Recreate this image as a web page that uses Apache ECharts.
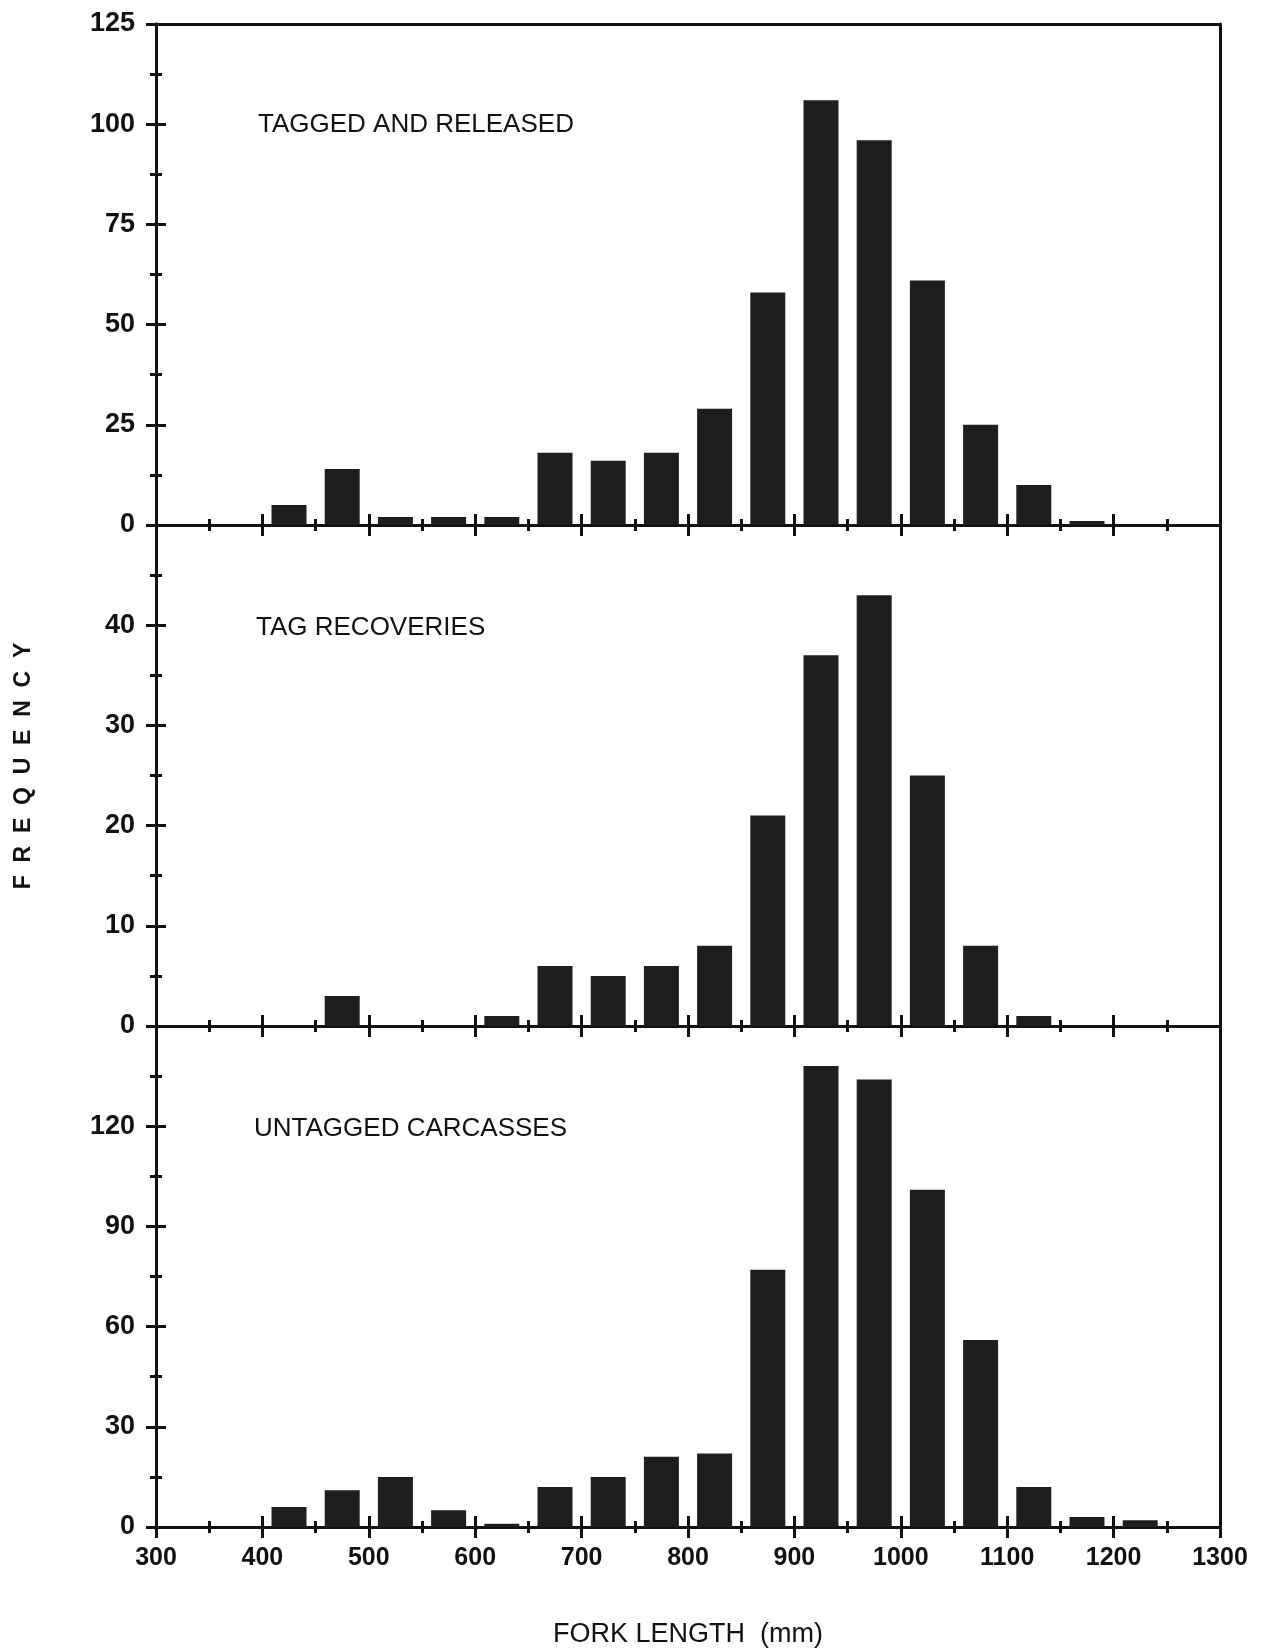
<!DOCTYPE html>
<html>
<head>
<meta charset="utf-8">
<script src="https://cdn.jsdelivr.net/npm/echarts@6/dist/echarts.min.js"></script>
<style>
html,body{margin:0;padding:0;background:#fff;}
#chart{width:1261px;height:1652px;}
</style>
</head>
<body>
<div id="chart"></div>
<script>
// ---- data (fork-length bins, 50 mm wide; values are bin centres) ----
const binCenters = [375, 425, 475, 525, 575, 625, 675, 725, 775, 825, 875, 925, 975, 1025, 1075, 1125, 1175, 1225];
const taggedReleased    = [0, 5, 14, 2, 2, 2, 18, 16, 18, 29, 58, 106, 96, 61, 25, 10, 1, 0];
const tagRecoveries     = [0, 0, 3, 0, 0, 1, 6, 5, 6, 8, 21, 37, 43, 25, 8, 1, 0, 0];
const untaggedCarcasses = [0, 6, 11, 15, 5, 1, 12, 15, 21, 22, 77, 138, 134, 101, 56, 12, 3, 2];
const panelTitles = ['TAGGED AND RELEASED', 'TAG RECOVERIES', 'UNTAGGED CARCASSES'];
const panelSeries = [taggedReleased, tagRecoveries, untaggedCarcasses];
const yMaxes = [125, 50, 150];
const ySteps = [25, 10, 30];
const xMin = 300, xMax = 1300, xStep = 100;
const xTitle = 'FORK LENGTH  (mm)';
const yTitle = 'F  R  E  Q  U  E  N  C  Y';

// ---- layout / style ----
const FONT = 'Liberation Sans';
const INK = '#111111';
const BAR = '#1e1e1e';
const gridTops = [24, 525, 1026];
const GRID_H = 501;
const titlePos = [[258, 126], [256, 629], [254, 1130]];

const grid = [], xAxis = [], yAxis = [], series = [], title = [];
const lineStyle = { color: INK, width: 3 };
const tickStyle = { color: INK, width: 3 };
const plain = v => String(Math.round(v));

panelSeries.forEach((vals, i) => {
  grid.push({ left: 156, right: 41, top: gridTops[i], height: GRID_H, containLabel: false });

  const baseX = {
    type: 'value', gridIndex: i, min: xMin, max: xMax, interval: xStep, position: 'bottom',
    splitLine: { show: false }, axisLine: { show: true, onZero: false, lineStyle: lineStyle }
  };
  const xOut = xAxis.length;
  xAxis.push(Object.assign({}, baseX, {
    axisTick: { show: true, inside: false, length: 11, lineStyle: tickStyle },
    minorTick: { show: true, splitNumber: 2, length: 6, lineStyle: tickStyle },
    axisLabel: { show: i === 2, margin: 19, formatter: plain, fontFamily: FONT, fontSize: 25, fontWeight: 'bold', color: INK, showMinLabel: true, showMaxLabel: true }
  }));
  xAxis.push(Object.assign({}, baseX, {
    axisTick: { show: true, inside: true, length: 11, lineStyle: tickStyle },
    minorTick: { show: true, splitNumber: 2, length: 6, lineStyle: tickStyle },
    axisLabel: { show: false }
  }));
  if (i === 0) {
    xAxis.push(Object.assign({}, baseX, {
      position: 'top', axisTick: { show: false }, minorTick: { show: false }, axisLabel: { show: false }
    }));
  }

  const baseY = {
    type: 'value', gridIndex: i, min: 0, max: yMaxes[i], interval: ySteps[i], position: 'left',
    splitLine: { show: false }, axisLine: { show: true, onZero: false, lineStyle: lineStyle }
  };
  const yOut = yAxis.length;
  yAxis.push(Object.assign({}, baseY, {
    axisTick: { show: true, inside: false, length: 10, lineStyle: tickStyle },
    minorTick: { show: true, splitNumber: 2, length: 6, lineStyle: tickStyle },
    axisLabel: { show: true, margin: 21, formatter: plain, fontFamily: FONT, fontSize: 27, fontWeight: 'bold', color: INK, showMinLabel: true, showMaxLabel: i === 0 }
  }));
  yAxis.push(Object.assign({}, baseY, {
    axisTick: { show: true, inside: true, length: 10, lineStyle: tickStyle },
    minorTick: { show: true, splitNumber: 2, length: 6, lineStyle: tickStyle },
    axisLabel: { show: false }
  }));
  yAxis.push(Object.assign({}, baseY, {
    position: 'right', axisTick: { show: false }, minorTick: { show: false }, axisLabel: { show: false }
  }));

  series.push({
    type: 'bar', xAxisIndex: xOut, yAxisIndex: yOut,
    data: binCenters.map((c, k) => [c, vals[k]]),
    barWidth: 35, itemStyle: { color: BAR }, z: 1, silent: true
  });

  title.push({
    text: panelTitles[i], left: titlePos[i][0], top: titlePos[i][1] - 14, padding: 0,
    textStyle: { fontFamily: FONT, fontSize: 26, fontWeight: 'normal', color: INK }
  });
});

const chart = echarts.init(document.getElementById('chart'), null, { renderer: 'canvas' });
chart.setOption({
  backgroundColor: '#ffffff',
  animation: false,
  title: title,
  grid: grid,
  xAxis: xAxis,
  yAxis: yAxis,
  series: series,
  graphic: [
    { type: 'text', x: 688, y: 1635,
      style: { text: xTitle, font: 'normal 27px "Liberation Sans"', fill: INK, textAlign: 'center', textVerticalAlign: 'middle', align: 'center', verticalAlign: 'middle' } },
    { type: 'text', x: 24, y: 766, rotation: Math.PI / 2,
      style: { text: yTitle, font: 'bold 23px "Liberation Sans"', fill: INK, textAlign: 'center', textVerticalAlign: 'middle', align: 'center', verticalAlign: 'middle' } }
  ]
});
</script>
</body>
</html>
